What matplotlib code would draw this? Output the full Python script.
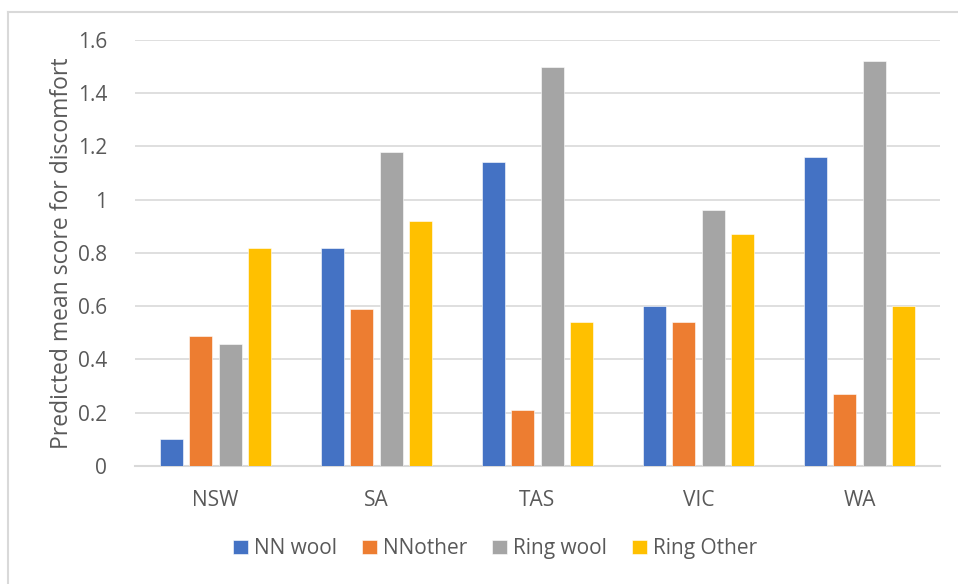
import numpy as np
import matplotlib
matplotlib.use("Agg")
import matplotlib.pyplot as plt
from matplotlib.lines import Line2D

states = ["NSW", "SA", "TAS", "VIC", "WA"]
series = ["NN wool", "NNother", "Ring wool", "Ring Other"]
nn_wool = [0.10, 0.82, 1.14, 0.60, 1.16]
nn_other = [0.49, 0.59, 0.21, 0.54, 0.27]
ring_wool = [0.46, 1.18, 1.50, 0.96, 1.52]
ring_other = [0.82, 0.92, 0.54, 0.87, 0.60]
yticks = [0, 0.2, 0.4, 0.6, 0.8, 1, 1.2, 1.4, 1.6]
ytick_labels = ["0", "0.2", "0.4", "0.6", "0.8", "1", "1.2", "1.4", "1.6"]

colors = ["#4472C4", "#ED7D31", "#A5A5A5", "#FFC000"]
text_col = "#595959"

plt.rcParams["font.family"] = ["Open Sans", "DejaVu Sans"]

fig = plt.figure(figsize=(9.58, 5.84), dpi=100)
ax = fig.add_axes([0.1409, 0.2021, 0.8403, 0.7294])

x = np.arange(len(states))
step = 0.182
width = 0.143
for i, (vals, name) in enumerate(zip([nn_wool, nn_other, ring_wool, ring_other], series)):
    ax.bar(x + (i - 1.5) * step, vals, width, color=colors[i], label=name,
           zorder=3, edgecolor="white", linewidth=0.4)

ax.set_xlim(-0.5, len(states) - 0.5)
ax.set_ylim(0, 1.6)
ax.set_yticks(yticks)
ax.set_yticklabels(ytick_labels)
ax.set_xticks(x)
ax.set_xticklabels(states)
ax.tick_params(axis="both", length=0, labelsize=15, colors=text_col)
ax.tick_params(axis="y", pad=20)
ax.tick_params(axis="x", pad=17)
ax.grid(axis="y", color="#D9D9D9", linewidth=1.2, zorder=0)
for s in ["top", "right", "left"]:
    ax.spines[s].set_visible(False)
ax.spines["bottom"].set_color("#D9D9D9")
ax.spines["bottom"].set_linewidth(1.5)

ax.set_ylabel("Predicted mean score for discomfort", fontsize=16.5, color=text_col, labelpad=3)

leg = fig.legend(loc="center", bbox_to_anchor=(0.517, 0.06), ncol=4, frameon=False,
                 fontsize=15, handlelength=0.7, handleheight=0.7,
                 handletextpad=0.3, columnspacing=1.2)
for t in leg.get_texts():
    t.set_color(text_col)

# chart area border (only top and left visible in the crop)
fig.add_artist(Line2D([8 / 958, 8 / 958], [0, 1 - 12 / 584], transform=fig.transFigure,
                      color="#D9D9D9", linewidth=1.5))
fig.add_artist(Line2D([8 / 958, 1], [1 - 12 / 584, 1 - 12 / 584], transform=fig.transFigure,
                      color="#D9D9D9", linewidth=1.5))

fig.savefig("out.png", dpi=100)
